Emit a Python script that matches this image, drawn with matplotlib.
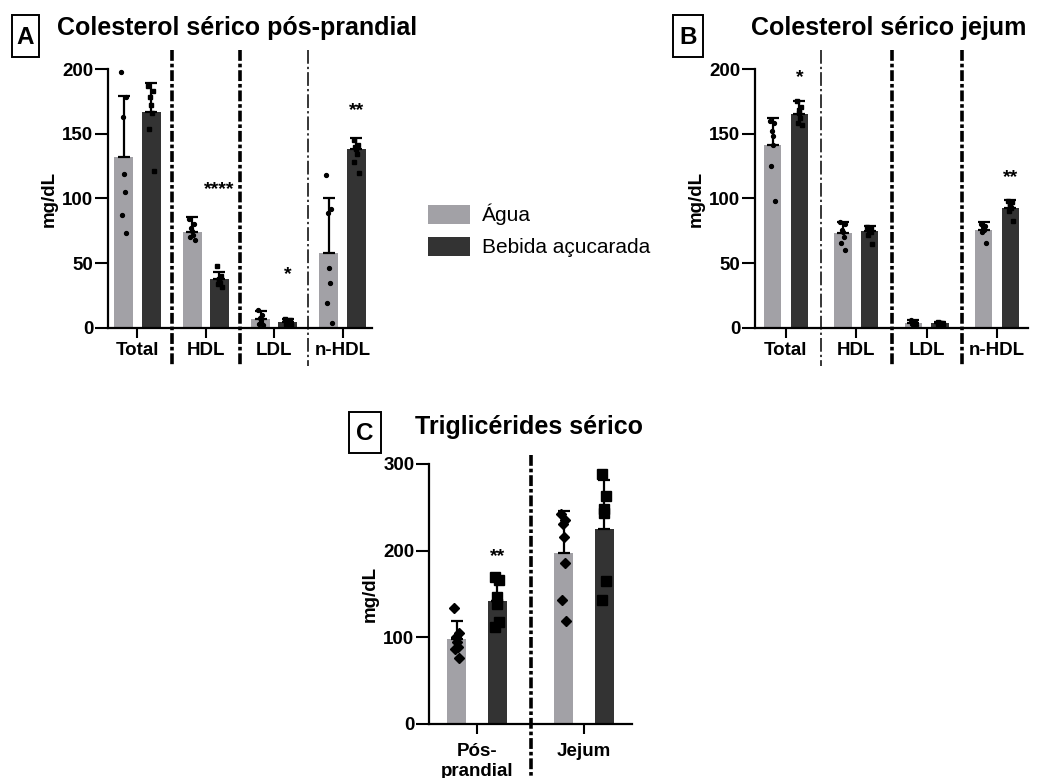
import numpy as np
import matplotlib
matplotlib.use("Agg")
import matplotlib.pyplot as plt
from matplotlib.patches import Rectangle, Patch
from matplotlib.lines import Line2D

plt.rcParams['font.family'] = ['Liberation Sans', 'DejaVu Sans']

# ---------------- data ----------------
series_names = ["Água", "Bebida açucarada"]
colors = ["#a2a1a6", "#333333"]

A_title = "Colesterol sérico pós-prandial"
A_cats = ["Total", "HDL", "LDL", "n-HDL"]
A_mean_agua = [132, 74.5, 7, 58]
A_sd_agua = [47, 11.5, 6, 42]
A_mean_beb = [167, 38, 5, 138]
A_sd_beb = [22, 5, 2, 8.5]
A_pts_agua = [[198, 178, 163, 119, 105, 87, 73],
               [84, 80, 77, 75, 72, 70, 68],
               [14, 10, 8, 6, 5, 3, 2],
               [118, 92, 89, 46, 35, 19, 4]]
A_pts_beb = [[187, 183, 178, 172, 166, 154, 121],
              [48, 40, 38, 36, 35, 34, 32],
              [7, 6, 5, 5, 4, 3, 2],
              [145, 141, 140, 138, 134, 128, 120]]
A_stars = ["", "****", "*", "**"]
A_star_y = [0, 107, 41, 168]

B_title = "Colesterol sérico jejum"
B_cats = ["Total", "HDL", "LDL", "n-HDL"]
B_mean_agua = [141, 73, 4, 76]
B_sd_agua = [21, 9, 2, 6]
B_mean_beb = [165.5, 75, 4, 93]
B_sd_beb = [10, 4, 1, 6]
B_pts_agua = [[160, 158, 152, 148, 141, 125, 98],
               [82, 80, 76, 74, 70, 66, 60],
               [6, 5, 4, 4, 3, 3, 2],
               [80, 79, 78, 77, 76, 74, 66]]
B_pts_beb = [[175, 171, 168, 166, 162, 158, 157],
              [78, 77, 76, 75, 74, 72, 65],
              [5, 4, 4, 4, 3, 3, 3],
              [98, 97, 96, 95, 93, 90, 83]]
B_stars = ["*", "", "", "**"]
B_star_y = [193, 0, 0, 116]

C_title = "Triglicérides sérico"
C_cats = ["Pós-\nprandial", "Jejum"]
C_mean_agua = [98.5, 197]
C_sd_agua = [20, 49]
C_mean_beb = [142, 225]
C_sd_beb = [24, 56.5]
C_pts_agua = [[134, 105, 100, 95, 89, 87, 76],
               [242, 235, 231, 216, 186, 143, 119]]
C_pts_beb = [[170, 166, 147, 139, 118, 112],
              [289, 263, 248, 244, 165, 143]]
C_stars = ["**", ""]
C_star_y = [193, 0]

W, H = 1037, 778
fig = plt.figure(figsize=(W / 100, H / 100), dpi=100)


def fx(px):
    return px / W


def fy(py):
    return 1 - py / H


def panel(rect, cats, m1, s1, m2, s2, p1, p2, stars, star_y, ymax, yticks,
          width, off, ms, xpad, div_styles, div_y, letter, box, title, title_xy,
          xlabpad=3, lsp=1.0):
    l, r, t, b = rect
    ax = fig.add_axes([fx(l), fy(b), fx(r) - fx(l), fy(t) - fy(b)])
    x = np.arange(len(cats))
    ax.bar(x - off, m1, width, color=colors[0], zorder=1)
    ax.bar(x + off, m2, width, color=colors[1], zorder=1)
    z = np.zeros(len(cats))
    ax.errorbar(x - off, m1, yerr=[z, s1], fmt='none', ecolor='black',
                elinewidth=1.6, capsize=4, capthick=1.6, zorder=3)
    ax.errorbar(x + off, m2, yerr=[z, s2], fmt='none', ecolor='black',
                elinewidth=1.6, capsize=4, capthick=1.6, zorder=3)
    for i in range(len(cats)):
        n1 = len(p1[i])
        n2 = len(p2[i])
        j1 = np.linspace(-width * 0.14, width * 0.14, n1) * np.array([1, -1] * 10)[:n1]
        j2 = np.linspace(-width * 0.14, width * 0.14, n2) * np.array([1, -1] * 10)[:n2]
        ax.plot(x[i] - off + j1, p1[i], linestyle='none', marker='D' if ms > 4 else 'o',
                ms=ms * 0.8, color='black', zorder=4, clip_on=False)
        ax.plot(x[i] + off + j2, p2[i], linestyle='none', marker='s',
                ms=ms, color='black', zorder=4, clip_on=False)
        if stars[i]:
            ax.text(x[i] + off, star_y[i], stars[i], ha='center', va='center',
                    fontsize=14, fontweight='bold')
    ax.set_xlim(-xpad, len(cats) - 1 + xpad)
    ax.set_ylim(0, ymax)
    ax.set_yticks(yticks)
    ax.set_xticks(x)
    ax.set_xticklabels(cats, fontsize=13.5, fontweight='bold', linespacing=lsp)
    ax.tick_params(axis='y', length=9.5, width=1.5, pad=1, labelsize=13.5)
    ax.tick_params(axis='x', length=7, width=1.5, pad=xlabpad)
    for lab in ax.get_yticklabels():
        lab.set_fontweight('bold')
    for s in ['top', 'right']:
        ax.spines[s].set_visible(False)
    for s in ['left', 'bottom']:
        ax.spines[s].set_linewidth(1.6)
    ax.set_ylabel("mg/dL", fontsize=13.5, fontweight='bold', labelpad=3)
    # dividers between groups
    for i, (ls, lw) in enumerate(div_styles):
        xd = i + 0.5
        xfig = fig.transFigure.inverted().transform(ax.transData.transform((xd, 0)))[0]
        fig.add_artist(Line2D([xfig, xfig], [fy(div_y[0]), fy(div_y[1])],
                              color='black', lw=lw, linestyle=ls))
    # letter box
    bx0, by0, bx1, by1 = box
    fig.add_artist(Rectangle((fx(bx0), fy(by1)), fx(bx1) - fx(bx0), fy(by0) - fy(by1),
                             transform=fig.transFigure, fill=False, lw=1.4, ec='black'))
    fig.text(fx((bx0 + bx1) / 2), fy((by0 + by1) / 2 + 1), letter, ha='center', va='center',
             fontsize=17.5, fontweight='bold')
    fig.text(fx(title_xy[0]), fy(title_xy[1]), title, ha='left', va='center',
             fontsize=18, fontweight='bold')
    return ax


heavy = ((0, (3, 0.8, 1, 0.8)), 2.6)
thin = ((0, (9, 2, 1.5, 2)), 1.1)

axA = panel((108, 372, 69, 328), A_cats, A_mean_agua, A_sd_agua, A_mean_beb, A_sd_beb,
            A_pts_agua, A_pts_beb, A_stars, A_star_y, 200, [0, 50, 100, 150, 200],
            0.28, 0.2, 3.5, 0.43, [heavy, heavy, thin], (50, 366), "A",
            (12, 15, 39, 57), A_title, (57, 28))

axB = panel((755, 1028, 69, 328), B_cats, B_mean_agua, B_sd_agua, B_mean_beb, B_sd_beb,
            B_pts_agua, B_pts_beb, B_stars, B_star_y, 200, [0, 50, 100, 150, 200],
            0.25, 0.19, 3.5, 0.44, [thin, heavy, heavy], (50, 366), "B",
            (673, 15, 703, 57), B_title, (751, 28))

axC = panel((429, 632, 464, 724), C_cats, C_mean_agua, C_sd_agua, C_mean_beb, C_sd_beb,
            C_pts_agua, C_pts_beb, C_stars, C_star_y, 300, [0, 100, 200, 300],
            0.18, 0.19, 7, 0.45, [heavy], (455, 778), "C",
            (349, 412, 381, 453), C_title, (415, 427), xlabpad=7, lsp=1.2)

handles = [Patch(facecolor=colors[0]), Patch(facecolor=colors[1])]
fig.legend(handles, series_names, loc='upper left', bbox_to_anchor=(fx(428), fy(204)),
           frameon=False, fontsize=15, handlelength=2.0, handleheight=1.0,
           handletextpad=0.6, labelspacing=0.55, borderpad=0, borderaxespad=0)

fig.savefig("out.png", dpi=100)
